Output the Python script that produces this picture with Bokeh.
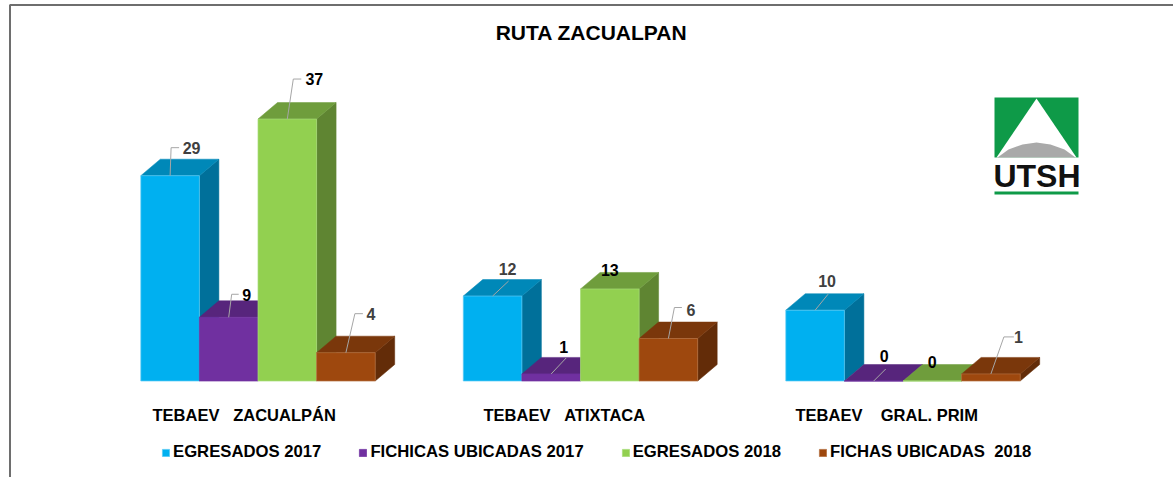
from bokeh.plotting import figure
from bokeh.models import Range1d, Legend, LegendItem, ColumnDataSource
from bokeh.core.properties import value
from bokeh.embed import file_html
from bokeh.resources import INLINE

NB = "\u00a0"
title = "RUTA ZACUALPAN"
categories = ["TEBAEV" + NB * 3 + "ZACUALPÁN", "TEBAEV" + NB * 3 + "ATIXTACA", "TEBAEV" + NB * 4 + "GRAL. PRIM"]
series = ["EGRESADOS 2017", "FICHICAS UBICADAS 2017", "EGRESADOS 2018", "FICHAS UBICADAS" + NB * 2 + "2018"]
egresados_2017 = [29, 12, 10]
fichas_2017 = [9, 1, 0]
egresados_2018 = [37, 13, 0]
fichas_2018 = [4, 6, 1]
values = [egresados_2017, fichas_2017, egresados_2018, fichas_2018]

front_colors = ["#00B0F0", "#7030A0", "#92D050", "#9E480E"]
top_colors = ["#0088B8", "#57257C", "#6F9D3C", "#7A370B"]
side_colors = ["#00709A", "#57257C", "#5F8532", "#632C08"]
edge_colors = ["#5CCBF5", "#7030A0", "#A8DC78", "#B5703F"]

W, H = 1173, 477
PX_PER_VALUE = 7.08
PX_PER_GROUP = 322.5
BASE_PX = 380.5
GROUP0_PX = 140.3
BAR = 58.6 / PX_PER_GROUP
DX = 19.5 / PX_PER_GROUP
DY = 16.5 / PX_PER_VALUE

p = figure(width=W, height=H, output_backend="svg", toolbar_location=None,
           x_range=Range1d(-GROUP0_PX / PX_PER_GROUP, (W - GROUP0_PX) / PX_PER_GROUP),
           y_range=Range1d(-(H - BASE_PX) / PX_PER_VALUE, BASE_PX / PX_PER_VALUE),
           min_border=0, outline_line_color=None, background_fill_color="white",
           border_fill_color="white")
p.xaxis.visible = False
p.yaxis.visible = False
p.grid.visible = False
p.extra_x_ranges = {"px": Range1d(0, W)}
p.extra_y_ranges = {"px": Range1d(H, 0)}
PX = dict(x_range_name="px", y_range_name="px")

# picture frame
p.line([9.5, 9.5, W], [H, 4.5, 4.5], line_color="#555555", line_width=2, line_alpha=0.85, **PX)

legend_items = []
for j in range(4):
    xs_front, ys_front, xs_top, ys_top, xs_side, ys_side = [], [], [], [], [], []
    for i in range(3):
        v = values[j][i]
        x0 = i + j * BAR
        x1 = x0 + BAR
        xs_front.append([x0, x1, x1, x0])
        ys_front.append([0, 0, v, v])
        xs_top.append([x0, x1, x1 + DX, x0 + DX])
        ys_top.append([v, v, v + DY, v + DY])
        xs_side.append([x1, x1 + DX, x1 + DX, x1])
        ys_side.append([0, DY, v + DY, v])
    p.patches(xs_side, ys_side, fill_color=side_colors[j], line_color=side_colors[j], line_width=0.5)
    p.patches(xs_top, ys_top, fill_color=top_colors[j], line_color=top_colors[j], line_width=0.5)
    r = p.patches(xs_front, ys_front, fill_color=front_colors[j], line_color=edge_colors[j], line_width=0.7)
    legend_items.append(LegendItem(label=series[j], renderers=[r]))

# data labels with their leader lines: offsets in pixels from the bar's top-centre
label_offsets = [
    [(21.5, -27.5), (15, -27), (12, -29)],
    [(18, -22), (12.5, -27), (10.5, -25)],
    [(27, -40), (0, -19), (0, -19)],
    [(25, -39), (22.5, -29), (27.5, -37)],
]
leader_shapes = [
    [[(1, -28), (9, -28)], [(16, -15)], [(13, -16)]],
    [[(3, -23), (10, -23)], [(15, -16)], [(12, -12)]],
    [[(6, -40), (14, -40)], None, None],
    [[(9, -39), (17, -39)], [(6, -31), (13.5, -31)], [(13, -37), (23, -37)]],
]
label_colors = [
    ["#404040", "#404040", "#404040"],
    ["#000000", "#000000", "#000000"],
    ["#000000", "#000000", "#000000"],
    ["#404040", "#404040", "#404040"],
]
lx, ly, lt, lc, ox, oy = [], [], [], [], [], []
for j in range(4):
    for i in range(3):
        v = values[j][i]
        cx = i + (j + 0.5) * BAR
        lx.append(cx); ly.append(v); lt.append(str(v)); lc.append(label_colors[j][i])
        ox.append(label_offsets[j][i][0]); oy.append(label_offsets[j][i][1])
        shape = leader_shapes[j][i]
        if shape:
            px = [cx] + [cx + a / PX_PER_GROUP for a, _ in shape]
            py = [v] + [v - b / PX_PER_VALUE for _, b in shape]
            p.line(px, py, line_color="#A6A6A6", line_width=1)
src = ColumnDataSource(dict(x=lx, y=ly, t=lt, c=lc, ox=ox, oy=oy))
p.text("x", "y", text="t", source=src, text_color="c", x_offset="ox", y_offset="oy",
       text_font=value("Liberation Sans"), text_font_style="bold", text_font_size="16px",
       text_align="center", text_baseline="middle")

# category labels
cat_px = [152, 483, 795]
p.text(cat_px, [414] * 3, text=categories, text_font=value("Liberation Sans"),
       text_font_style="bold", text_font_size="16.5px", text_color="#000000",
       text_baseline="middle", **PX)

# title
p.text([591], [32], text=[title], text_font=value("Liberation Sans"), text_font_style="bold",
       text_font_size="21px", text_color="#000000", text_align="center",
       text_baseline="middle", **PX)

# logo
p.patches([[994, 1078, 1078, 994]], [[97, 97, 157, 157]], fill_color="#0E9A48", line_color=None, **PX)
p.patches([[1036, 1076, 996]], [[98, 157, 157]], fill_color="#FFFFFF", line_color=None, **PX)
p.patches([[997, 1008, 1022, 1036, 1050, 1064, 1075]],
          [[157, 149, 144, 142, 144, 149, 157]], fill_color="#A9A9A9", line_color=None, **PX)
p.text([1036.5], [175], text=["UTSH"], text_font=value("Liberation Sans"), text_font_style="bold",
       text_font_size="32px", text_color="#111111", text_align="center", text_baseline="middle", **PX)
p.patches([[994, 1078, 1078, 994]], [[191, 191, 194, 194]], fill_color="#0E9A48", line_color=None, **PX)

legend = Legend(items=legend_items, orientation="horizontal", location=(161, 15),
                glyph_width=9, glyph_height=9, label_standoff=3, spacing=37, padding=0, margin=0,
                border_line_color=None, background_fill_alpha=0,
                label_text_font="Liberation Sans", label_text_font_style="bold",
                label_text_font_size="16.7px", label_text_color="#000000")
p.add_layout(legend, "center")

open("out.html", "w").write(file_html(p, INLINE))
